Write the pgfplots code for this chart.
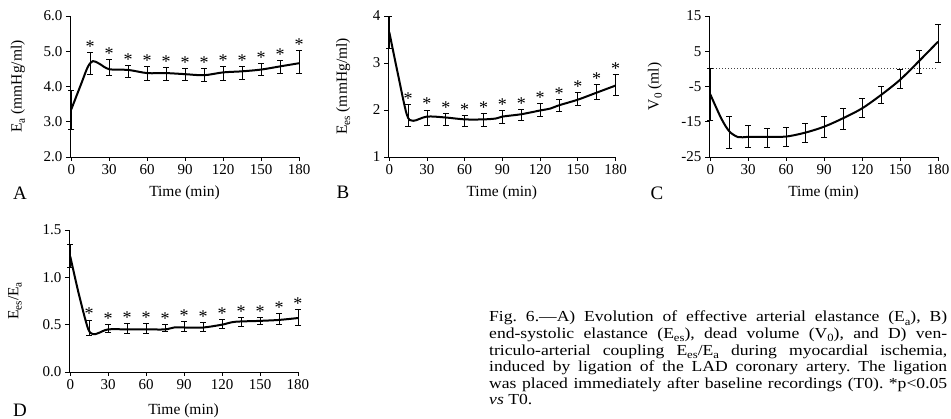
\documentclass[border=0pt]{standalone}
\usepackage{fontspec}
\setmainfont{Liberation Serif}
\newfontfamily\capfont[FakeStretch=1.15,Ligatures=TeX]{Liberation Serif}
\usepackage{pgfplots}
\usepackage{pgfplotstable}
\pgfplotsset{compat=1.18}
\newcommand\sub[1]{\raisebox{-0.45ex}{\scalebox{0.72}{#1}}}
\newcommand\tf{\fontsize{15}{17}\selectfont}
\frenchspacing

\pgfplotstableread{
t m e
0 3.345 0.555
15 4.655 0.305
30 4.54 0.226
45 4.43 0.17
60 4.37 0.19
75 4.355 0.175
90 4.34 0.175
105 4.325 0.185
120 4.37 0.19
135 4.39 0.19
150 4.485 0.17
165 4.555 0.195
180 4.69 0.32
}\barsA
\pgfplotstableread{
t m
0 3.35
8 4.09
13 4.55
17 4.72
22 4.65
30 4.49
45 4.47
60 4.38
75 4.38
90 4.35
105 4.32
120 4.40
135 4.43
150 4.48
165 4.57
180 4.66
}\curveA
\pgfplotstableread{
t m e
0 3.66 0.34
15 1.88 0.23
30 1.835 0.165
45 1.805 0.125
60 1.775 0.115
75 1.785 0.135
90 1.855 0.135
105 1.90 0.12
120 1.995 0.135
135 2.105 0.125
150 2.23 0.14
165 2.38 0.165
180 2.54 0.22
}\barsB
\pgfplotstableread{
t m
0 3.66
7 2.75
14 1.90
19 1.77
30 1.86
45 1.84
60 1.80
75 1.80
85 1.82
90 1.86
105 1.91
120 1.99
128 2.03
135 2.10
150 2.22
165 2.37
180 2.52
}\curveB
\pgfplotstableread{
t m e
0 -7.26 7.39
15 -18.1 4.56
30 -19.2 3.1
45 -19.55 2.75
60 -19.25 2.7
75 -18.15 2.75
90 -16.4 2.9
105 -14.1 2.95
120 -11.0 2.7
135 -7.3 2.45
150 -2.8 2.7
165 2.0 3.3
180 7.3 5.35
}\barsC
\pgfplotstableread{
t m
0 -7.2
8.6 -14
15 -17.7
22 -19.35
30 -19.3
45 -19.3
60 -19.2
75 -18.1
90 -16.4
105 -14.0
120 -11.2
135 -7.4
150 -3.1
165 2.2
180 7.7
}\curveC
\pgfplotstableread{
t m e
0 1.23 0.12
15 0.47 0.08
30 0.46 0.046
45 0.46 0.05
60 0.46 0.05
75 0.464 0.04
90 0.48 0.053
105 0.48 0.046
120 0.51 0.048
135 0.53 0.05
150 0.54 0.035
165 0.56 0.062
180 0.575 0.088
}\barsD
\pgfplotstableread{
t m
0 1.22
7 0.81
14 0.46
18 0.40
22 0.41
30 0.45
45 0.45
60 0.45
75 0.45
82 0.47
90 0.47
105 0.47
120 0.50
130 0.53
150 0.54
165 0.55
180 0.57
}\curveD

\pgfplotsset{
 panel/.style={
  scale only axis, width=229pt, height=141pt,
  anchor=south west,
  axis lines*=left,
  axis line style={line width=0.8pt},
  tick align=outside, major tick length=4pt,
  tick style={line width=0.8pt, black},
  xmin=-1, xmax=180, xtick={0,30,...,180},
  enlargelimits=false, clip=false,
  /pgf/number format/assume math mode=true,
  tick label style={font=\tf},
  label style={font=\fontsize{15.5}{17}\selectfont},
  xlabel={Time (min)},
  xlabel style={at={(axis description cs:0.5,-0.255)}, anchor=center},
  ylabel style={at={(axis description cs:-0.227,0.5)}, anchor=center},
 },
 ebar/.style={draw=none, mark=none, forget plot,
  error bars/.cd, y dir=both, y explicit,
  error bar style={line width=0.8pt, black},
  error mark=|,
  error mark options={line width=0.8pt, mark size=3pt, black}},
 stars/.style={draw=none, mark=none, forget plot,
  skip coords between index={0}{1},
  nodes near coords={*}, nodes near coords align={anchor=base},
  every node near coord/.append style={font=\fontsize{18}{18}\selectfont, inner sep=0pt, yshift=0pt}},
 curve/.style={smooth, line width=2pt, black, mark=none},
}

\begin{document}
\begin{tikzpicture}
\path[use as bounding box] (0,0) rectangle (951pt,419pt);

% Panel A
\begin{axis}[panel, at={(70pt,262pt)},
  ymin=2, ymax=6, ytick={2,3,4,5,6}, yticklabels={2.0,3.0,4.0,5.0,6.0},
  ylabel={E\sub{a} (mmHg/ml)}]
\addplot[ebar] table[x=t, y=m, y error=e] {\barsA};
\addplot[curve] table[x=t, y=m] {\curveA};
\addplot[stars] table[x=t, y expr={\thisrow{m}+\thisrow{e}}] {\barsA};
\end{axis}

% Panel B
\begin{axis}[panel, at={(388pt,262pt)}, width=227.6pt,
  ymin=1, ymax=4, ytick={1,2,3,4},
  ylabel style={at={(axis description cs:-0.197,0.5)}},
  ylabel={E\sub{es} (mmHg/ml)}]
\addplot[ebar] table[x=t, y=m, y error=e] {\barsB};
\addplot[curve] table[x=t, y=m] {\curveB};
\addplot[stars] table[x=t, y expr={\thisrow{m}+\thisrow{e}}] {\barsB};
\end{axis}

% Panel C
\begin{axis}[panel, at={(709pt,262pt)},
  ymin=-25, ymax=15, ytick={-25,-15,-5,5,15}, yticklabels={-25,-15,-5,5,15},
  ylabel style={at={(axis description cs:-0.236,0.5)}},
  ylabel={V\sub{0} (ml)}]
\addplot[dotted, black!75, line width=1pt, forget plot] coordinates {(0,0) (180,0)};
\addplot[ebar] table[x=t, y=m, y error=e] {\barsC};
\addplot[curve] table[x=t, y=m] {\curveC};
\end{axis}

% Panel D
\begin{axis}[panel, at={(69pt,47pt)}, height=142pt,
  ymin=0, ymax=1.5, ytick={0,0.5,1,1.5}, yticklabels={0.0,0.5,1.0,1.5},
  ylabel style={at={(axis description cs:-0.236,0.5)}},
  xlabel style={at={(axis description cs:0.5,-0.27)}},
  ylabel={E\sub{es}/E\sub{a}}]
\addplot[ebar] table[x=t, y=m, y error=e] {\barsD};
\addplot[curve] table[x=t, y=m] {\curveD};
\addplot[stars] table[x=t, y expr={\thisrow{m}+\thisrow{e}}] {\barsD};
\end{axis}

\node[font=\fontsize{19}{19}\selectfont] at (20pt,226pt) {A};
\node[font=\fontsize{19}{19}\selectfont] at (343pt,227pt) {B};
\node[font=\fontsize{19}{19}\selectfont] at (657pt,226pt) {C};
\node[font=\fontsize{19}{19}\selectfont] at (20pt,9pt) {D};

\begin{scope}[every node/.style={anchor=base west, inner sep=0pt, font=\capfont\fontsize{15.3}{16}\selectfont}]
\node at (489pt,97pt) {\makebox[458pt][s]{Fig. 6.\textemdash A) Evolution of effective arterial elastance (E\sub{a}), B)}};
\node at (489pt,80.4pt) {\makebox[458pt][s]{end-systolic elastance (E\sub{es}), dead volume (V\sub{0}), and D) ven-}};
\node at (489pt,63.8pt) {\makebox[458pt][s]{triculo-arterial coupling E\sub{es}/E\sub{a} during myocardial ischemia,}};
\node at (489pt,47.2pt) {\makebox[458pt][s]{induced by ligation of the LAD coronary artery. The ligation}};
\node at (489pt,30.6pt) {\makebox[458pt][s]{was placed immediately after baseline recordings (T0). *p<0.05}};
\node at (489pt,14pt) {\textit{vs} T0.};
\end{scope}
\end{tikzpicture}
\end{document}
